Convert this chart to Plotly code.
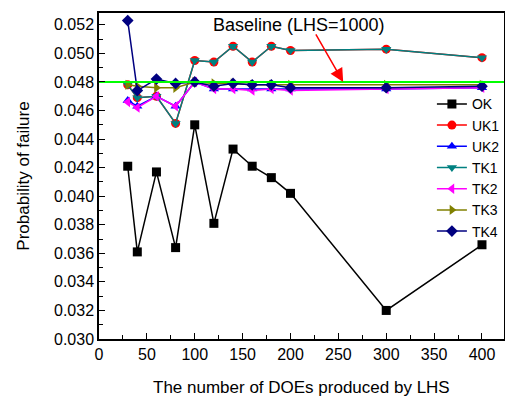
import plotly.graph_objects as go

doe = [30, 40, 60, 80, 100, 120, 140, 160, 180, 200, 300, 400]
ok = [0.0421, 0.0361, 0.0417, 0.0364, 0.0450, 0.0381, 0.0433, 0.0421, 0.0413, 0.0402, 0.0320, 0.0366]
uk1 = [0.0478, 0.0469, 0.0470, 0.0451, 0.0495, 0.0494, 0.0505, 0.0494, 0.0505, 0.0502, 0.0503, 0.0497]
uk2 = [0.0467, 0.0463, 0.0470, 0.0463, 0.0480, 0.0475, 0.0475, 0.0475, 0.0475, 0.0475, 0.0475, 0.0476]
tk1 = [0.0478, 0.0469, 0.0470, 0.0451, 0.0495, 0.0494, 0.0505, 0.0494, 0.0505, 0.0502, 0.0503, 0.0497]
tk2 = [0.0466, 0.0462, 0.0470, 0.0463, 0.0480, 0.0475, 0.0475, 0.0474, 0.0475, 0.0474, 0.0475, 0.0476]
tk3 = [0.0478, 0.0477, 0.0476, 0.0476, 0.0480, 0.0479, 0.0479, 0.0478, 0.0478, 0.0478, 0.0478, 0.0478]
tk4 = [0.0523, 0.0474, 0.0482, 0.0479, 0.0480, 0.0477, 0.0479, 0.0478, 0.0478, 0.0476, 0.0476, 0.0477]
baseline = 0.048
x_title = "The number of DOEs produced by LHS"
y_title = "Probability of failure"

series = [
    ("OK", ok, "black", "square"),
    ("UK1", uk1, "red", "circle"),
    ("UK2", uk2, "blue", "triangle-up"),
    ("TK1", tk1, "#008080", "triangle-down"),
    ("TK2", tk2, "magenta", "triangle-left"),
    ("TK3", tk3, "#808000", "triangle-right"),
    ("TK4", tk4, "#000080", "diamond"),
]

fig = go.Figure()
for name, vals, col, sym in series:
    fig.add_trace(go.Scatter(
        x=doe, y=vals, name=name, mode="lines+markers",
        line=dict(color=col, width=1.5),
        marker=dict(symbol=sym, size=9, color=col),
    ))

fig.add_trace(go.Scatter(
    x=[0, 423], y=[baseline, baseline], mode="lines",
    line=dict(color="#00ff00", width=2), showlegend=False, hoverinfo="skip"))

fig.add_annotation(x=208.9, y=0.05196, text="Baseline (LHS=1000)", showarrow=False,
                   font=dict(size=18, color="black"), xref="x", yref="y")
fig.add_annotation(x=255, y=baseline, ax=225.6, ay=0.05143, axref="x", ayref="y",
                   xref="x", yref="y", text="", showarrow=True, arrowhead=2,
                   arrowsize=1.8, arrowwidth=1.5, arrowcolor="red")
fig.add_annotation(x=0.5, y=-0.15, xref="paper", yref="paper", text=x_title,
                   showarrow=False, yanchor="middle", xanchor="center",
                   font=dict(size=17, color="black"))

font_family = "Liberation Sans, Arial, sans-serif"
fig.update_layout(
    width=505, height=398,
    margin=dict(l=99, r=1, t=13, b=59, autoexpand=False),
    paper_bgcolor="white", plot_bgcolor="white",
    font=dict(family=font_family, size=16, color="black"),
    showlegend=True,
    legend=dict(x=0.822, y=0.769, xanchor="left", yanchor="top",
                bgcolor="rgba(0,0,0,0)", font=dict(size=14),
                tracegroupgap=0),
    xaxis=dict(range=[0, 423], tickmode="linear", tick0=0, dtick=50,
               automargin=False,
               ticks="inside", ticklen=6, tickwidth=1, tickcolor="black",
               minor=dict(ticks="inside", dtick=25, ticklen=4, tickcolor="black"),
               showline=True, linecolor="black", linewidth=1.5, mirror=True,
               showgrid=False, zeroline=False,
               tickfont=dict(size=16)),
    yaxis=dict(range=[0.030, 0.05283], tickmode="linear", tick0=0.030, dtick=0.002,
               tickformat=".3f", automargin=False,
               ticks="inside", ticklen=6, tickwidth=1, tickcolor="black",
               minor=dict(ticks="inside", dtick=0.001, ticklen=4, tickcolor="black"),
               showline=True, linecolor="black", linewidth=1.5, mirror=True,
               showgrid=False, zeroline=False,
               title=dict(text=y_title, font=dict(size=17), standoff=20),
               tickfont=dict(size=16)),
)

fig.write_html("out.html")
